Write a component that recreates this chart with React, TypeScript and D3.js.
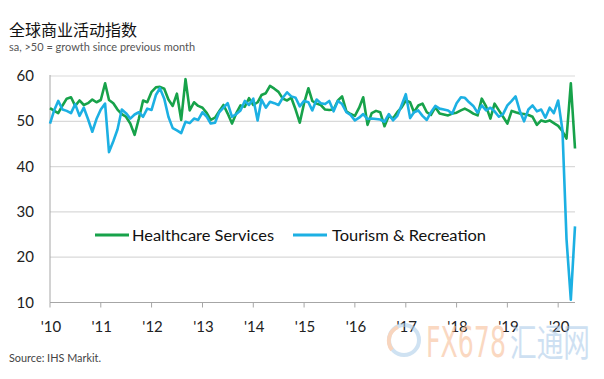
import React from 'react';
import * as d3 from 'd3';

const title = '全球商业活动指数';
const subtitle = 'sa, >50 = growth since previous month';
const source = 'Source: IHS Markit.';
const seriesNames = ['Healthcare Services', 'Tourism & Recreation'];
const seriesColors = ['#17a24a', '#1cb0e3'];

// Monthly observations, Jan 2010 .. May 2020
const healthcare = [
  52.9, 52.3, 51.8, 53.5, 55.0, 55.3, 53.4, 54.6, 53.6, 54.0, 54.8, 54.2,
  54.7, 58.4, 54.7, 54.0, 52.6, 51.6, 51.0, 49.5, 47.0, 50.5, 54.6, 54.2,
  56.5, 57.5, 57.6, 57.2, 54.8, 53.4, 56.1, 50.3, 59.3, 52.4, 54.2, 53.4,
  53.0, 51.8, 50.3, 50.8, 52.2, 53.6, 51.7, 49.5, 51.8, 53.5, 53.2, 55.1,
  53.6, 54.2, 55.8, 56.2, 57.8, 57.2, 56.5, 55.0, 54.6, 55.2, 52.6, 49.7,
  54.0, 57.3, 54.5, 53.9, 53.6, 52.6, 52.5, 52.6, 54.6, 55.5, 52.2, 51.6,
  51.2, 53.0, 55.3, 49.2, 51.8, 52.3, 52.0, 48.9, 51.2, 50.6, 52.0, 53.0,
  54.6, 54.2, 52.0, 53.5, 53.9, 52.0, 51.4, 53.1, 51.7, 51.5, 51.3, 51.7,
  51.9, 52.4, 52.8, 52.3, 51.7, 51.3, 55.0, 53.3, 50.6, 53.9, 52.4, 51.0,
  49.5, 52.3, 52.0, 51.7, 51.6, 51.4, 51.0, 49.2, 50.2, 49.9, 50.2, 49.6,
  49.0, 47.8, 46.2, 58.4, 44.0,
];
const tourism = [
  49.5, 52.5, 54.5, 52.6, 52.3, 51.8, 53.8, 51.2, 53.0, 50.5, 47.7, 50.5,
  52.6, 53.9, 43.2, 45.6, 48.2, 52.6, 51.8, 50.6, 51.5, 52.0, 51.0, 52.8,
  52.5, 55.8, 57.3, 55.0, 51.0, 48.5, 48.0, 47.4, 49.9, 49.6, 50.6, 50.3,
  52.0, 51.0, 49.5, 49.7, 52.0, 53.0, 54.0, 51.0, 51.6, 52.4, 54.5, 53.6,
  55.0, 50.2, 54.8, 53.0, 54.3, 54.0, 53.6, 55.2, 56.4, 55.5, 55.2, 53.3,
  54.5, 54.2, 52.4, 54.8, 54.0, 53.8, 54.5, 52.2, 54.5, 53.8, 52.0, 51.4,
  50.2, 50.8, 51.6, 50.5, 50.6, 50.5, 50.4, 49.9, 51.6, 50.2, 51.2, 53.5,
  56.0, 50.7, 52.0, 52.4, 51.2, 50.3, 52.0, 53.4, 52.8, 52.6, 52.4, 51.7,
  54.0, 55.3, 55.2, 54.2, 53.4, 51.9, 53.5, 52.4, 53.0, 52.2, 51.0, 51.6,
  53.5, 54.5, 55.5, 52.2, 50.0, 52.6, 53.5, 52.2, 52.6, 50.8, 53.0, 51.8,
  54.6, 48.0, 24.0, 10.6, 26.8,
];
const yTicks = [10, 20, 30, 40, 50, 60];
const xTickYears = [2010, 2011, 2012, 2013, 2014, 2015, 2016, 2017, 2018, 2019, 2020];
const xTickLabels = ["'10", "'11", "'12", "'13", "'14", "'15", "'16", "'17", "'18", "'19", "'20"];

const months = d3.timeMonth.range(new Date(2010, 0, 1), new Date(2020, 5, 1));

export default function App() {
  const W = 604;
  const H = 379;
  const left = 50;
  const right = 575;
  const top = 76;
  const bottom = 302.5;

  const x = d3.scaleTime().domain([months[0], months[months.length - 1]]).range([left, right]);
  const y = d3.scaleLinear().domain([10, 60]).range([bottom, top]);

  const line = d3
    .line<number>()
    .x((_, i) => x(months[i]))
    .y((d) => y(d))
    .curve(d3.curveLinear);

  const series = [healthcare, tourism];
  const font = 'Lato, "Open Sans", sans-serif';

  return (
    <svg
      width={W}
      height={H}
      style={{ position: 'absolute', left: 0, top: 0, background: '#fff' }}
      fontFamily={font}
    >
      <rect width={W} height={H} fill="#fff" />
      <text x={9} y={36} fontSize={16} fill="#111" fontFamily='"Noto Sans CJK SC", sans-serif' textLength={128} lengthAdjust="spacingAndGlyphs">
        {title}
      </text>
      <text x={9} y={51} fontSize={11} fill="#555" textLength={186} lengthAdjust="spacingAndGlyphs">
        {subtitle}
      </text>

      {yTicks.filter((t) => t > 10).map((t) => (
        <line key={'g' + t} x1={left} x2={right} y1={y(t)} y2={y(t)} stroke="#d9d9d9" strokeWidth={1.2} />
      ))}
      <line x1={left} x2={left} y1={top - 1} y2={bottom} stroke="#a6a6a6" strokeWidth={1} />
      <line x1={left} x2={right} y1={bottom} y2={bottom} stroke="#a6a6a6" strokeWidth={1.2} />

      {yTicks.map((t) => (
        <text key={'yl' + t} x={34} y={y(t) + 5} fontSize={15} fill="#222" textAnchor="end">
          {t}
        </text>
      ))}

      {xTickYears.map((yr, i) => {
        const xp = x(new Date(yr, 0, 1));
        return (
          <g key={'xt' + yr}>
            <line x1={xp} x2={xp} y1={bottom} y2={bottom + 5} stroke="#a6a6a6" strokeWidth={1} />
            <text x={xp + 1} y={332} fontSize={15} fill="#222" textAnchor="middle">
              {xTickLabels[i]}
            </text>
          </g>
        );
      })}

      {/* watermark */}
      <g opacity={0.55}>
        <circle cx={404} cy={340} r={15} fill="none" stroke="#a9cbe8" strokeWidth={4} />
        <path d="M 392 350 A 15 15 0 0 1 398 327" fill="none" stroke="#f4b48a" strokeWidth={4} />
        <text x={426} y={357} fontSize={42} fill="#f7b98f" fontFamily='"DejaVu Sans", sans-serif' textLength={80} lengthAdjust="spacingAndGlyphs">
          FX678
        </text>
        <text x={510} y={356} fontSize={38} fill="#a7c8e8" fontFamily='"Noto Sans CJK SC", sans-serif' textLength={80} lengthAdjust="spacingAndGlyphs">
          汇通网
        </text>
      </g>

      {series.map((s, i) => (
        <path key={'s' + i} d={line(s) || ''} fill="none" stroke={seriesColors[i]} strokeWidth={2.6} strokeLinejoin="round" />
      ))}

      {/* legend */}
      <rect x={88} y={222} width={402} height={26} fill="#fff" />
      <line x1={95} x2={129} y1={235} y2={235} stroke={seriesColors[0]} strokeWidth={3} />
      <text x={132} y={240.5} fontSize={15.5} fill="#111" textLength={142} lengthAdjust="spacingAndGlyphs">
        {seriesNames[0]}
      </text>
      <line x1={293} x2={327} y1={235} y2={235} stroke={seriesColors[1]} strokeWidth={3} />
      <text x={332} y={240.5} fontSize={15.5} fill="#111" textLength={154} lengthAdjust="spacingAndGlyphs">
        {seriesNames[1]}
      </text>

      <text x={9} y={362} fontSize={10.5} fill="#444" textLength={92} lengthAdjust="spacingAndGlyphs">
        {source}
      </text>
    </svg>
  );
}
